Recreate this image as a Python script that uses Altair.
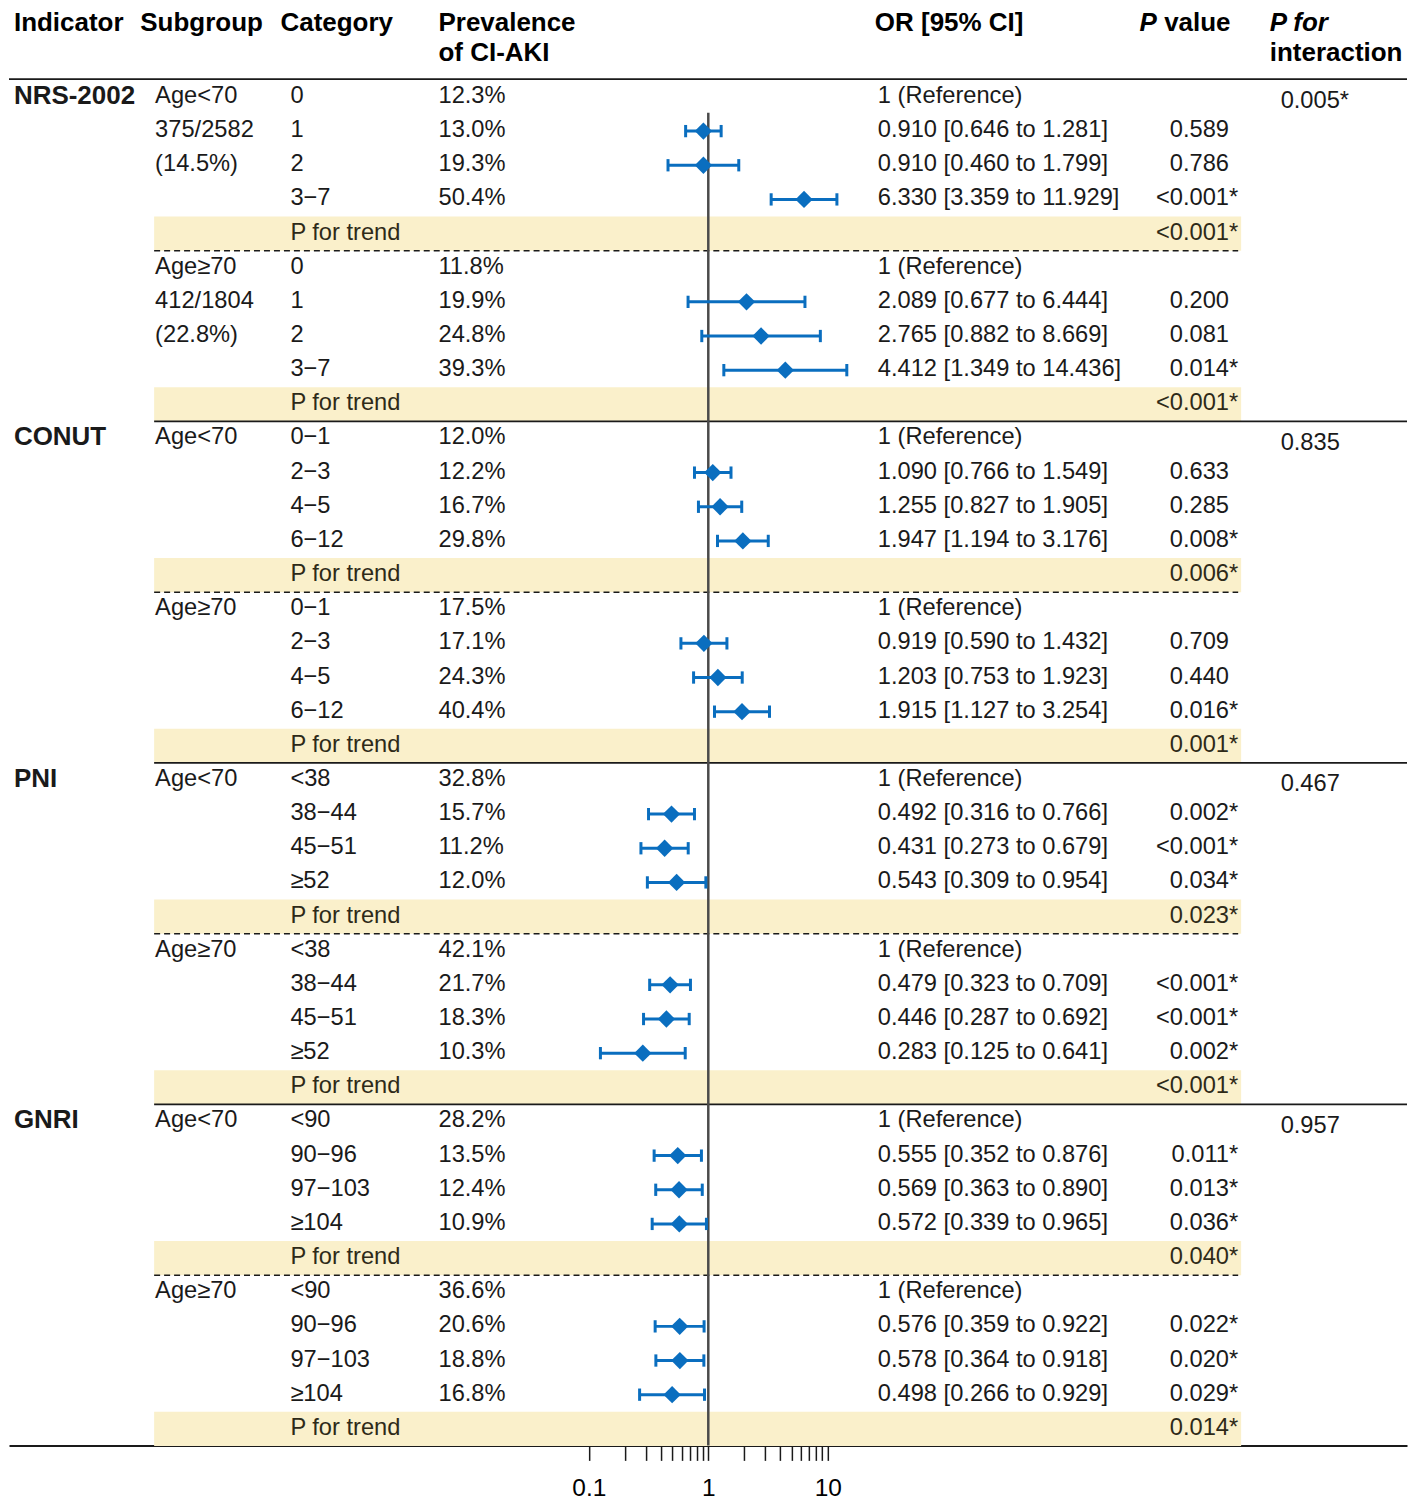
import altair as alt
import pandas as pd

# ---------------- data ----------------
indicators = ["NRS-2002", "CONUT", "PNI", "GNRI"]
subgroups = ["Age<70", "Age≥70"]
categories = {
    "NRS-2002": ["0", "1", "2", "3−7"],
    "CONUT": ["0−1", "2−3", "4−5", "6−12"],
    "PNI": ["<38", "38−44", "45−51", "≥52"],
    "GNRI": ["<90", "90−96", "97−103", "≥104"],
}
subgroup_counts = {
    ("NRS-2002", "Age<70"): ["375/2582", "(14.5%)"],
    ("NRS-2002", "Age≥70"): ["412/1804", "(22.8%)"],
}
prevalence = [
    12.3, 13.0, 19.3, 50.4,
    11.8, 19.9, 24.8, 39.3,
    12.0, 12.2, 16.7, 29.8,
    17.5, 17.1, 24.3, 40.4,
    32.8, 15.7, 11.2, 12.0,
    42.1, 21.7, 18.3, 10.3,
    28.2, 13.5, 12.4, 10.9,
    36.6, 20.6, 18.8, 16.8,
]
odds_ratio = [
    None, 0.910, 0.910, 6.330,
    None, 2.089, 2.765, 4.412,
    None, 1.090, 1.255, 1.947,
    None, 0.919, 1.203, 1.915,
    None, 0.492, 0.431, 0.543,
    None, 0.479, 0.446, 0.283,
    None, 0.555, 0.569, 0.572,
    None, 0.576, 0.578, 0.498,
]
ci_lower = [
    None, 0.646, 0.460, 3.359,
    None, 0.677, 0.882, 1.349,
    None, 0.766, 0.827, 1.194,
    None, 0.590, 0.753, 1.127,
    None, 0.316, 0.273, 0.309,
    None, 0.323, 0.287, 0.125,
    None, 0.352, 0.363, 0.339,
    None, 0.359, 0.364, 0.266,
]
ci_upper = [
    None, 1.281, 1.799, 11.929,
    None, 6.444, 8.669, 14.436,
    None, 1.549, 1.905, 3.176,
    None, 1.432, 1.923, 3.254,
    None, 0.766, 0.679, 0.954,
    None, 0.709, 0.692, 0.641,
    None, 0.876, 0.890, 0.965,
    None, 0.922, 0.918, 0.929,
]
p_value = [
    "", "0.589", "0.786", "<0.001*",
    "", "0.200", "0.081", "0.014*",
    "", "0.633", "0.285", "0.008*",
    "", "0.709", "0.440", "0.016*",
    "", "0.002*", "<0.001*", "0.034*",
    "", "<0.001*", "<0.001*", "0.002*",
    "", "0.011*", "0.013*", "0.036*",
    "", "0.022*", "0.020*", "0.029*",
]
p_trend = ["<0.001*", "<0.001*", "0.006*", "0.001*", "0.023*", "<0.001*", "0.040*", "0.014*"]
p_interaction = ["0.005*", "0.835", "0.467", "0.957"]

# ---------------- table building ----------------
rows = []
k = 0
g = 0
r = 0
for ii, ind in enumerate(indicators):
    for si, sub in enumerate(subgroups):
        extra = subgroup_counts.get((ind, sub), [])
        for ci, cat in enumerate(categories[ind]):
            o, lo, hi, p = odds_ratio[k], ci_lower[k], ci_upper[k], p_value[k]
            if o is None:
                ortext = "1 (Reference)"
            else:
                ortext = f"{o:.3f} [{lo:.3f} to {hi:.3f}]"
            if ci == 0:
                subtxt = sub
            elif ci - 1 < len(extra):
                subtxt = extra[ci - 1]
            else:
                subtxt = ""
            rows.append(dict(
                r=r, ind_idx=ii, sub_idx=si, trend=False,
                indname=ind if (si == 0 and ci == 0) else "",
                inter=p_interaction[ii] if (si == 0 and ci == 0) else "",
                sub=subtxt, cat=cat, prev=f"{prevalence[k]:.1f}%",
                orv=o, lo=lo, hi=hi, ortext=ortext,
                pnum=p.rstrip("*"), pstar="*" if p.endswith("*") else "",
            ))
            k += 1
            r += 1
        pt = p_trend[g]
        rows.append(dict(
            r=r, ind_idx=ii, sub_idx=si, trend=True, indname="", inter="",
            sub="", cat="P for trend", prev="", orv=None, lo=None, hi=None,
            ortext="", pnum=pt.rstrip("*"), pstar="*" if pt.endswith("*") else "",
        ))
        g += 1
        r += 1

df = pd.DataFrame(rows)

# ---------------- layout / style ----------------
S = 1400 / 1416  # reference-pixel to page-pixel factor


def px(v):
    return v * S


FONT = "Liberation Sans"
FS = 23.7
FSB = 26.0
BLUE = "#0A6EBF"
YELLOW = "#FAF0CB"
INK = "#1a1a1a"
ROW0 = 86.0
ROWSTEP = 34.59
PLOT_H = 1452
DY = -1

y_scale = alt.Scale(domain=[-ROW0 / ROWSTEP, (PLOT_H - ROW0) / ROWSTEP], reverse=True, nice=False, zero=False)
x_scale = alt.Scale(type="log", domain=[10 ** -5.854, 10 ** 5.849], nice=False)
x_axis = alt.Axis(
    values=[0.1, 0.2, 0.3, 0.4, 0.5, 0.6, 0.7, 0.8, 0.9, 1, 2, 3, 4, 5, 6, 7, 8, 9, 10],
    labelExpr="datum.value==0.1?'0.1':(datum.value==1?'1':(datum.value==10?'10':''))",
    tickSize=14.8, tickWidth=1.5, tickColor=INK, domainColor=INK, domainWidth=2,
    labelFontSize=24.5, labelFont=FONT, labelColor="black", labelPadding=16,
    grid=False, title=None, labelFlush=False, labelOverlap=False,
)


def Y(field):
    return alt.Y(field, scale=y_scale, axis=None)


def ry(ref_y):
    return (ref_y - ROW0) / ROWSTEP


base = alt.Chart(df)

band = base.transform_filter("datum.trend").transform_calculate(
    y0="datum.r - 0.5", y1="datum.r + 0.5"
).mark_rect(color=YELLOW).encode(
    x=alt.value(px(147)), x2=alt.value(px(1248)), y=Y("y0:Q"), y2="y1:Q"
)

dashed = base.transform_filter("datum.trend && datum.sub_idx == 0").transform_calculate(
    yl="datum.r + 0.5"
).mark_rule(color=INK, strokeWidth=1.5, strokeDash=[6, 4]).encode(
    x=alt.value(px(147)), x2=alt.value(px(1245)), y=Y("yl:Q")
)

solid = base.transform_filter("datum.trend && datum.sub_idx == 1 && datum.ind_idx < 3").transform_calculate(
    yl="datum.r + 0.5"
).mark_rule(color=INK, strokeWidth=1.8).encode(
    x=alt.value(px(147)), x2=alt.value(px(1416)), y=Y("yl:Q")
)

top_line = base.transform_filter("datum.r == 0").transform_calculate(
    yl="datum.r - 0.52"
).mark_rule(color=INK, strokeWidth=1.8).encode(
    x=alt.value(0), x2=alt.value(px(1416)), y=Y("yl:Q")
)

ref_line = alt.Chart(pd.DataFrame({"one": [1]})).mark_rule(color="#4a4a4a", strokeWidth=2.5).encode(
    x=alt.X("one:Q", scale=x_scale, axis=x_axis),
    y=alt.Y(datum=ry(102), scale=y_scale, axis=None),
    y2=alt.Y2(datum=(PLOT_H - ROW0) / ROWSTEP),
)

valid = base.transform_filter("isValid(datum.orv)")

bars = valid.mark_rule(color=BLUE, strokeWidth=3).encode(
    x=alt.X("lo:Q", scale=x_scale, axis=x_axis), x2="hi:Q", y=Y("r:Q")
)

caps = valid.transform_fold(["lo", "hi"], as_=["end", "cx"]).transform_calculate(
    ya="datum.r - 0.18", yb="datum.r + 0.18"
).mark_rule(color=BLUE, strokeWidth=3).encode(
    x=alt.X("cx:Q", scale=x_scale, axis=x_axis), y=Y("ya:Q"), y2="yb:Q"
)

diamonds = valid.mark_point(shape="diamond", filled=True, size=300, opacity=1, color=BLUE).encode(
    x=alt.X("orv:Q", scale=x_scale, axis=x_axis), y=Y("r:Q")
)


def col_text(field, x, align="left", bold=False, color=INK, size=FS, filt=None, yfield="r:Q"):
    c = base
    if filt:
        c = c.transform_filter(filt)
    return c.mark_text(
        align=align, baseline="middle", font=FONT, fontSize=size, dy=DY,
        fontWeight="bold" if bold else "normal", color=color,
    ).encode(x=alt.value(px(x)), y=Y(yfield), text=f"{field}:N")


t_ind = col_text("indname", 5, bold=True, size=FSB, filt="datum.indname != ''")
t_sub = col_text("sub", 148, filt="datum.sub != ''")
t_cat = col_text("cat", 285, filt="!datum.trend")
t_trend = col_text("cat", 285, filt="datum.trend", color="#2e2a18")
t_prev = col_text("prev", 435, filt="datum.prev != ''")
t_or = col_text("ortext", 880, filt="datum.ortext != ''")
t_p = col_text("pnum", 1235.7, align="right", filt="datum.pnum != '' && !datum.trend")
t_ps = col_text("pstar", 1235.7, filt="datum.pstar != '' && !datum.trend")
t_pt = col_text("pnum", 1235.7, align="right", filt="datum.trend", color="#2e2a18")
t_pts = col_text("pstar", 1235.7, filt="datum.trend && datum.pstar != ''", color="#2e2a18")
t_int = base.transform_filter("datum.inter != ''").transform_calculate(
    yi="datum.r + 0.15"
).mark_text(align="left", baseline="middle", font=FONT, fontSize=FS, color=INK, dy=DY).encode(
    x=alt.value(px(1288)), y=Y("yi:Q"), text="inter:N"
)


def header(text, x, ref_y, italic=False):
    return alt.Chart(pd.DataFrame({"t": [text]})).mark_text(
        align="left", baseline="middle", font=FONT, fontSize=FSB, fontWeight="bold",
        fontStyle="italic" if italic else "normal", color="black", dy=DY,
    ).encode(x=alt.value(px(x)), y=alt.Y(datum=ry(ref_y), scale=y_scale, axis=None), text="t:N")


headers = [
    header("Indicator", 5, 12),
    header("Subgroup", 133, 12),
    header("Category", 275, 12),
    header("Prevalence", 435, 12),
    header("of CI-AKI", 435, 42),
    header("OR [95% CI]", 877, 12),
    header("P", 1145, 12, italic=True),
    header("value", 1170, 12),
    header("P for", 1277, 12, italic=True),
    header("interaction", 1277, 42),
]

chart = alt.layer(
    band, dashed, solid, top_line, ref_line, bars, caps, diamonds,
    t_ind, t_sub, t_cat, t_trend, t_prev, t_or, t_p, t_ps, t_pt, t_pts, t_int,
    *headers,
).properties(
    width=px(1416), height=px(PLOT_H), padding=0
).configure_view(stroke=None)

chart.save("out.html", embed_options={"renderer": "svg", "actions": False})
